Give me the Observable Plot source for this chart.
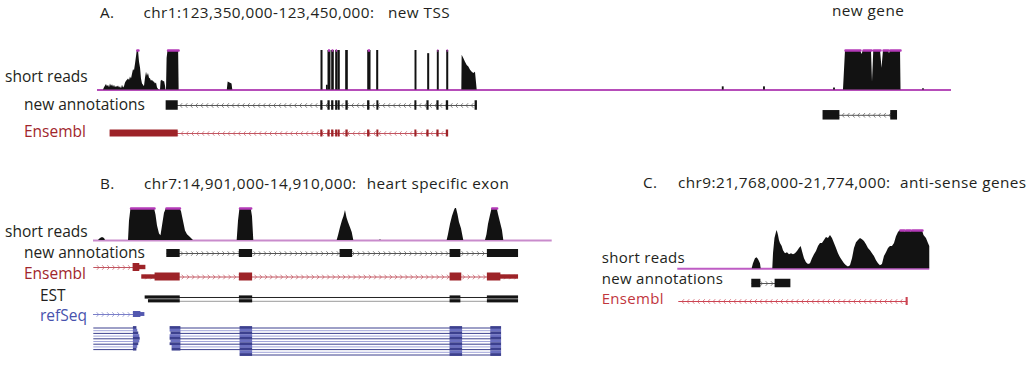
<!DOCTYPE html>
<html><head><meta charset="utf-8">
<script src="https://cdn.jsdelivr.net/npm/d3@7"></script>
<script src="https://cdn.jsdelivr.net/npm/@observablehq/plot@0.6"></script>
<style>
body{margin:0;background:#fff;}
#fig{position:relative;width:1028px;height:367px;overflow:hidden;font-family:"Open Sans",sans-serif;background:#fff;}
#fig svg{position:absolute;left:0;}
.lbl{position:absolute;white-space:nowrap;line-height:1;color:#231f20;}
</style></head><body><div id="fig"></div><script>
// ---------------- DATA ----------------
// Panel A: chr1:123,350,000-123,450,000 ; positions in kb from region start, depth in % of track max (>100 = clipped)
const titleA = ["A.", "chr1:123,350,000-123,450,000:", "new TSS", "new gene"];
const regionA = [0, 100];
const coverageA = [
 [0.70,0],[0.82,6],[0.94,10],[1.05,14],[1.17,8],[1.29,12],[1.41,6],[1.52,15],[1.64,9],[1.76,13],[1.88,7],[1.99,12],[2.11,6],[2.22,9],[2.34,7],[2.46,10],[2.58,5],[2.69,8],[2.81,3],[2.93,12],[3.05,5],[3.16,8],[3.28,18],[3.40,22],[3.51,25],[3.63,28],[3.75,24],[3.86,33],[3.98,28],[4.10,40],[4.22,52],[4.33,48],[4.45,65],[4.57,85],[4.66,130],[4.80,130],[4.92,70],[5.04,55],[5.15,28],[5.27,15],[5.39,12],[5.50,8],[5.62,30],[5.74,45],[5.85,35],[5.97,42],[6.09,30],[6.21,28],[6.32,22],[6.44,25],[6.56,20],[6.67,20],[6.79,15],[6.91,18],[7.03,5],[7.14,2],[7.26,0],[7.38,0],[7.45,22],[7.61,25],[7.73,20],[7.85,22],[7.96,10],[8.02,0],[8.08,0],[8.15,80],[8.26,130],[9.50,130],[9.56,0],
 [15.20,0],[15.30,20],[15.52,18],[15.75,15],[15.84,0],
 [42.66,0],[42.70,88],[42.89,80],[43.09,70],[43.29,62],[43.48,58],[43.68,50],[43.88,45],[44.06,42],[44.26,45],[44.46,0],
 [87.35,0],[87.59,130],[89.34,130],[89.52,90],[89.70,130],[90.63,130],[90.75,20],[90.90,130],[91.69,130],[91.86,55],[92.04,130],[92.62,130],[92.74,92],[92.86,130],[94.03,130],[94.09,0]
];
const spikesA = [ // [startKb, endKb, depth]
 [26.23,26.35,100],[26.87,26.96,12],[27.05,27.28,130],[27.48,27.67,130],[27.95,28.10,130],[28.22,28.37,100],[29.12,29.31,100],[31.70,31.97,130],[32.75,32.87,100],[37.24,37.35,100],[38.72,38.84,92],[39.85,39.96,130],[40.95,41.07,130],
 [73.22,73.32,8],[78.05,78.15,8],[86.25,86.35,5],[96.67,96.77,3]
];
const newAnnotationsA = [
 {row:0, strand:"-", span:[8.08,44.44], exons:[[8.08,9.40],[26.19,26.35],[27.03,27.20],[27.46,27.63],[27.93,28.08],[28.22,28.37],[29.13,29.31],[31.67,31.85],[32.76,32.90],[37.21,37.35],[38.62,38.78],[39.79,39.95],[40.89,41.07],[44.26,44.44]]},
 {row:1, strand:"-", span:[85.01,93.64], exons:[[85.01,86.89],[92.94,93.64]]}
];
const ensemblA = [
 {row:0, strand:"-", span:[1.52,41.07], exons:[[1.52,9.40],[26.19,26.35],[27.03,27.20],[27.46,27.63],[27.93,28.08],[28.22,28.37],[29.13,29.31],[31.67,31.85],[32.76,32.90],[37.21,37.35],[38.62,38.78],[39.79,39.95],[40.89,41.07]]}
];

// Panel B: chr7:14,901,000-14,910,000
const titleB = ["B.", "chr7:14,901,000-14,910,000:", "heart specific exon"];
const regionB = [0, 9];
const coverageB = [
 [0.098,0],[0.137,6],[0.177,9],[0.216,6],[0.235,0],
 [0.687,0],[0.706,60],[0.736,130],[1.197,130],[1.226,80],[1.256,45],[1.295,20],[1.324,15],[1.354,45],[1.393,85],[1.432,130],[1.697,130],[1.727,90],[1.746,75],[1.805,30],[1.844,18],[1.903,9],[1.962,0],
 [2.819,0],[2.845,60],[2.874,130],[3.094,130],[3.119,75],[3.145,0],
 [4.781,0],[4.807,15],[4.846,40],[4.885,62],[4.915,75],[4.944,94],[4.974,70],[5.003,56],[5.042,40],[5.076,25],[5.107,0],
 [5.620,0],[5.631,3],[5.642,0],
 [6.939,0],[6.965,18],[7.004,50],[7.043,75],[7.083,94],[7.102,100],[7.122,100],[7.151,81],[7.181,56],[7.220,37],[7.265,0],
 [7.691,0],[7.720,18],[7.750,50],[7.789,78],[7.822,105],[7.920,105],[7.946,81],[7.985,56],[8.024,31],[8.050,0]
];
const newAnnotationsB = [
 {row:0, strand:"+", span:[1.446,8.332], exons:[[1.446,1.693],[2.870,3.114],[4.846,5.076],[7.004,7.200],[7.736,8.332]]}
];
const ensemblB = [
 {row:0, strand:"+", span:[0.006,1.020], exons:[[0.785,0.900],[0.900,1.020,"utr"]]},
 {row:1, strand:"+", span:[0.955,8.332], exons:[[0.955,1.216,"utr"],[1.216,1.693],[2.870,3.114],[7.004,7.218],[7.736,7.985],[7.985,8.332,"utr"]]}
];
const estB = [
 {row:0, span:[1.020,8.332], exons:[[1.020,1.693],[2.870,3.114],[7.004,7.200],[7.736,8.332]]},
 {row:1, span:[1.085,8.332], exons:[[1.085,1.693],[2.870,3.114],[7.004,7.200],[7.736,8.332]]}
];
const refSeqB = [
 {row:0, strand:"+", span:[0.000,1.000], exons:[[0.791,0.922],[0.922,1.000,"utr"]]},
 {row:5, span:[0.006,0.844], exons:[[0.791,0.844]]},
 {row:6, span:[0.006,0.860], exons:[[0.791,0.860]]},
 {row:7, span:[0.006,0.880], exons:[[0.791,0.880]]},
 {row:8, span:[0.006,0.900], exons:[[0.791,0.900]]},
 {row:9, span:[0.006,0.908], exons:[[0.791,0.908]]},
 {row:10, span:[0.006,0.900], exons:[[0.791,0.900]]},
 {row:11, span:[0.006,0.880], exons:[[0.791,0.880]]},
 {row:12, span:[0.006,0.860], exons:[[0.791,0.860]]},
 {row:13, span:[0.006,0.844], exons:[[0.791,0.844]]},
 {row:5, span:[1.511,7.999], exons:[[1.511,1.707],[2.884,3.114],[7.004,7.234],[7.803,7.999]]},
 {row:6, span:[1.511,7.999], exons:[[1.511,1.707],[2.884,3.114],[7.004,7.234],[7.803,7.999]]},
 {row:7, span:[1.530,7.999], exons:[[1.530,1.707],[2.884,3.114],[7.004,7.234],[7.803,7.999]]},
 {row:8, span:[1.511,7.999], exons:[[1.511,1.707],[2.884,3.114],[7.004,7.234],[7.803,7.999]]},
 {row:9, span:[1.511,7.999], exons:[[1.511,1.707],[2.884,3.114],[7.004,7.234],[7.803,7.999]]},
 {row:10, span:[1.530,7.999], exons:[[1.530,1.707],[2.884,3.114],[7.004,7.234],[7.803,7.999]]},
 {row:11, span:[1.511,7.999], exons:[[1.511,1.707],[2.884,3.114],[7.004,7.234],[7.803,7.999]]},
 {row:12, span:[1.550,7.999], exons:[[1.550,1.707],[2.884,3.114],[7.004,7.234],[7.803,7.999]]},
 {row:13, span:[1.550,7.999], exons:[[1.550,1.707],[2.884,3.114],[7.004,7.234],[7.803,7.999]]},
 {row:14, span:[2.884,7.999], exons:[[2.884,3.114],[7.004,7.234],[7.803,7.999]]},
 {row:15, span:[2.884,7.999], exons:[[2.884,3.114],[7.004,7.234],[7.803,7.999]]}
];

// Panel C: chr9:21,768,000-21,774,000
const titleC = ["C.", "chr9:21,768,000-21,774,000:", "anti-sense genes"];
const regionC = [0, 6];
const coverageC = [
 [1.771,0],[1.802,13],[1.850,26],[1.886,29],[1.921,24],[1.969,13],[1.986,0],
 [2.262,0],[2.279,39],[2.314,79],[2.350,95],[2.367,100],[2.398,87],[2.421,74],[2.445,66],[2.486,58],[2.517,47],[2.564,39],[2.612,42],[2.660,37],[2.707,39],[2.755,37],[2.802,39],[2.850,45],[2.898,53],[2.938,58],[2.969,45],[3.017,26],[3.064,16],[3.112,11],[3.160,13],[3.207,26],[3.255,37],[3.302,45],[3.350,58],[3.398,66],[3.445,66],[3.493,74],[3.540,82],[3.588,79],[3.636,87],[3.683,79],[3.731,66],[3.779,53],[3.826,39],[3.874,29],[3.921,21],[3.969,13],[4.017,8],[4.064,5],[4.112,8],[4.160,26],[4.207,53],[4.255,68],[4.302,74],[4.350,79],[4.398,76],[4.445,71],[4.493,63],[4.540,53],[4.588,47],[4.636,39],[4.683,32],[4.731,21],[4.779,13],[4.826,8],[4.874,11],[4.921,32],[4.969,42],[5.017,53],[5.064,58],[5.112,58],[5.160,66],[5.207,84],[5.255,95],[5.302,110],[5.398,110],[5.421,95],[5.445,110],[5.540,110],[5.564,95],[5.588,110],[5.826,110],[5.862,87],[5.921,79],[5.969,66],[6.000,58],[6.000,0]
];
const newAnnotationsC = [
 {row:0, strand:"+", span:[1.771,2.683], exons:[[1.771,1.969],[2.326,2.683]]}
];
const ensemblC = [
 {row:0, strand:"-", span:[0.024,5.476], exons:[[5.445,5.476]]}
];
const trackNames = ["short reads", "new annotations", "Ensembl", "EST", "refSeq"];

// ---------------- RENDERING ----------------
const W = 1028;
const fig = document.getElementById("fig");
const plotStyle = {background: "transparent", overflow: "visible"};

function place(el, top) { el.style.top = top + "px"; el.style.left = "0px"; fig.appendChild(el); }

function addText(text, x, baseline, size, color = "#231f20", spacing = 0) {
  const d = document.createElement("div");
  d.className = "lbl"; d.textContent = text;
  d.style.left = x + "px"; d.style.top = (baseline - 0.888 * size) + "px";
  d.style.fontSize = size + "px"; d.style.color = color; d.style.letterSpacing = spacing + "px";
  fig.appendChild(d);
}

const chevR = {draw(ctx, size) { const s = Math.sqrt(size / Math.PI); ctx.moveTo(-s * 0.45, -s); ctx.lineTo(s * 0.45, 0); ctx.lineTo(-s * 0.45, s); }};
const chevL = {draw(ctx, size) { const s = Math.sqrt(size / Math.PI); ctx.moveTo(s * 0.45, -s); ctx.lineTo(-s * 0.45, 0); ctx.lineTo(s * 0.45, s); }};

function coveragePlot({domain, xr, yTop, yBase, profile, spikes = [], baseColor, capColor = "#b43ab8"}) {
  const pad = 3, MAX = 100;
  const prof = profile.map(([x, d]) => ({x, d}));
  const sp = spikes.map(([x1, x2, d]) => ({x1, x2, d}));
  const p = Plot.plot({
    width: W, height: yBase - yTop + 2 * pad,
    marginLeft: xr[0], marginRight: W - xr[1], marginTop: pad, marginBottom: pad,
    style: plotStyle,
    x: {domain, axis: null}, y: {domain: [0, MAX], axis: null},
    marks: [
      Plot.ruleY([0], {stroke: baseColor, strokeWidth: 2}),
      Plot.areaY(prof, {x: "x", y: d => Math.min(d.d, MAX), fill: "#121212"}),
      Plot.rect(sp, {x1: "x1", x2: "x2", y1: 0, y2: d => Math.min(d.d, MAX), fill: "#121212", insetLeft: -0.5, insetRight: -0.5}),
      Plot.lineY(prof, {x: "x", y: d => d.d > MAX ? MAX : NaN, stroke: capColor, strokeWidth: 2.5}),
      Plot.ruleY(sp.filter(d => d.d > MAX), {x1: "x1", x2: "x2", y: MAX, stroke: capColor, strokeWidth: 2.5})
    ]
  });
  place(p, yTop - pad);
}

function trackPlot({domain, xr, y0, rowPx = 10, nRows = 1, transcripts, exonColor, lineColor, thick, utrRatio = 0.55, chevColor}) {
  const pad = 7;
  const height = (nRows - 1) * rowPx + 2 * pad;
  const yp = pad / rowPx;
  const fnOf = v => typeof v === "function" ? v : () => v;
  const exonFill = fnOf(exonColor), lineStroke = fnOf(lineColor), chevStroke = fnOf(chevColor || lineColor), thickOf = fnOf(thick);
  const exons = transcripts.flatMap(t => t.exons.map(([s, e, kind = "cds"]) => ({s, e, kind, row: t.row})));
  const spans = transcripts.map(t => ({s: t.span[0], e: t.span[1], row: t.row, strand: t.strand}));
  const pxPerUnit = (xr[1] - xr[0]) / (domain[1] - domain[0]);
  const step = 5.2 / pxPerUnit;
  const chev = spans.filter(d => d.strand).flatMap(d => d3.range(d.s + step * 0.8, d.e - step * 0.4, step).map(x => ({x, row: d.row, strand: d.strand})));
  const half = d => thickOf(d.row) * (d.kind === "utr" ? utrRatio : 1) / 2 / rowPx;
  const p = Plot.plot({
    width: W, height,
    marginLeft: xr[0], marginRight: W - xr[1], marginTop: 0, marginBottom: 0,
    style: plotStyle,
    x: {domain, axis: null},
    y: {domain: [-yp, nRows - 1 + yp], range: [0, height], axis: null},
    color: {type: "identity"},
    marks: [
      Plot.ruleY(spans, {x1: "s", x2: "e", y: "row", stroke: d => lineStroke(d.row), strokeWidth: 1}),
      Plot.dot(chev.filter(d => d.strand === "+"), {x: "x", y: "row", symbol: chevR, r: 2.3, fill: "none", stroke: d => chevStroke(d.row), strokeWidth: 0.7}),
      Plot.dot(chev.filter(d => d.strand === "-"), {x: "x", y: "row", symbol: chevL, r: 2.3, fill: "none", stroke: d => chevStroke(d.row), strokeWidth: 0.7}),
      Plot.rect(exons, {x1: "s", x2: "e", y1: d => d.row - half(d), y2: d => d.row + half(d), fill: d => exonFill(d.row), insetLeft: -0.4, insetRight: -0.4})
    ]
  });
  place(p, y0 - pad);
}

const BLACK = "#141414", RED = "#9d2328", REDLINE = "#c25560", REDC = "#cc4452";

// Panel A
const xrA = [97, 951];
coveragePlot({domain: regionA, xr: xrA, yTop: 50, yBase: 89.5, profile: coverageA, spikes: spikesA, baseColor: "#b64db9"});
trackPlot({domain: regionA, xr: xrA, y0: 105, rowPx: 9.8, nRows: 2, transcripts: newAnnotationsA, exonColor: BLACK, lineColor: "#555", thick: 9.5});
trackPlot({domain: regionA, xr: xrA, y0: 133, transcripts: ensemblA, exonColor: RED, lineColor: REDLINE, thick: 7});

// Panel B
const xrB = [93, 551.7];
coveragePlot({domain: regionB, xr: xrB, yTop: 208, yBase: 240, profile: coverageB, baseColor: "#c98bcc"});
trackPlot({domain: regionB, xr: xrB, y0: 253, transcripts: newAnnotationsB, exonColor: BLACK, lineColor: "#555", thick: 8});
trackPlot({domain: regionB, xr: xrB, y0: 267, rowPx: 9.5, nRows: 2, transcripts: ensemblB, exonColor: RED, lineColor: REDLINE, thick: 8});
trackPlot({domain: regionB, xr: xrB, y0: 297, rowPx: 3.8, nRows: 2, transcripts: estB, exonColor: BLACK, lineColor: r => r === 0 ? "#222" : "#9a9a9a", thick: 3.2});
trackPlot({domain: regionB, xr: xrB, y0: 314.3, rowPx: 2.7, nRows: 16, transcripts: refSeqB,
  exonColor: r => r === 0 ? "#5358b0" : (r % 2 ? "#3c408e" : "#6a6fc0"),
  lineColor: r => r === 0 ? "#7a7fc8" : (r % 2 ? "#3c408e" : "#a2a5da"),
  thick: r => r === 0 ? 6 : 2.8, utrRatio: 0.65});

// Panel C
const xrC = [677.3, 929.3];
coveragePlot({domain: regionC, xr: xrC, yTop: 230, yBase: 268.3, profile: coverageC, baseColor: "#be5cc4"});
trackPlot({domain: regionC, xr: xrC, y0: 282.5, transcripts: newAnnotationsC, exonColor: BLACK, lineColor: "#555", thick: 8.5});
trackPlot({domain: regionC, xr: xrC, y0: 301, transcripts: ensemblC, exonColor: REDC, lineColor: REDC, thick: 8});

// Text
const TS = 15.3, TSP = 0.45, LS = 15.5, LSC = 15;
addText(titleA[0], 100, 18.5, TS, undefined, TSP);
addText(titleA[1], 143.5, 18.5, TS, undefined, TSP);
addText(titleA[2], 388, 18.5, TS, undefined, TSP);
addText(titleA[3], 832, 16.7, TS, undefined, TSP);
addText(trackNames[0], 5, 82.7, LS);
addText(trackNames[1], 24, 110.5, LS);
addText(trackNames[2], 24, 137.7, LS, "#a1262c");

addText(titleB[0], 100, 190, TS, undefined, TSP);
addText(titleB[1], 144, 190, TS, undefined, TSP);
addText(titleB[2], 366.7, 190, TS, undefined, TSP);
addText(trackNames[0], 5, 237.3, LS);
addText(trackNames[1], 24, 259, LS);
addText(trackNames[2], 24, 280, LS, "#a1262c");
addText(trackNames[3], 40, 301.3, LS);
addText(trackNames[4], 40, 321.7, LS, "#4852ad");

addText(titleC[0], 643, 188.3, TS, undefined, TSP);
addText(titleC[1], 678, 188.3, TS, undefined, TSP);
addText(titleC[2], 900, 188.3, TS, undefined, TSP);
addText(trackNames[0], 601.7, 263.8, LSC, undefined, 0.3);
addText(trackNames[1], 601.7, 284.6, LSC, undefined, 0.3);
addText(trackNames[2], 601.7, 304.8, LSC, "#c1363d", 0.3);
</script></body></html>
